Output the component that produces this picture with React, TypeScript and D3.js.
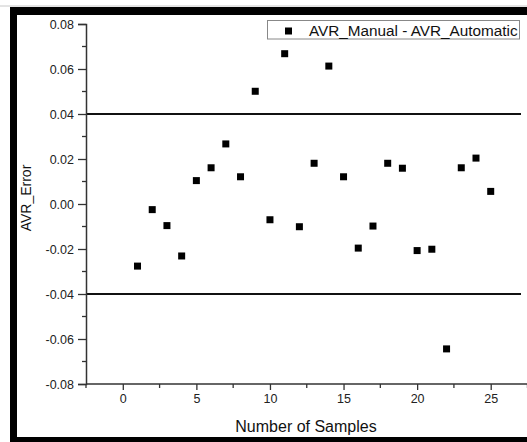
import React, { useEffect, useRef } from "react";
import * as d3 from "d3";

// sample number and measured error (AVR_Manual - AVR_Automatic)
const samples = [1, 2, 3, 4, 5, 6, 7, 8, 9, 10, 11, 12, 13, 14, 15, 16, 17, 18, 19, 20, 21, 22, 23, 24, 25];
const errors = [
  -0.0276, -0.0025, -0.0096, -0.0231, 0.0104, 0.0161, 0.0267, 0.0121, 0.0501, -0.007,
  0.0668, -0.0101, 0.0181, 0.0613, 0.0121, -0.0196, -0.0098, 0.0181, 0.0159, -0.0207,
  -0.0201, -0.0644, 0.0161, 0.0204, 0.0056,
];
const limits = [0.04, -0.04];
const xTicks = [0, 5, 10, 15, 20, 25];
const xMinorTicks = [-2.5, 2.5, 7.5, 12.5, 17.5, 22.5, 27.5];
const yTicks = [-0.08, -0.06, -0.04, -0.02, 0, 0.02, 0.04, 0.06, 0.08];
const yMinorTicks = [-0.07, -0.05, -0.03, -0.01, 0.01, 0.03, 0.05, 0.07];
const legendLabel = "AVR_Manual - AVR_Automatic";

const W = 527;
const H = 442;
const FONT = "'Liberation Sans', Arial, sans-serif";

export default function App() {
  const ref = useRef<SVGSVGElement>(null);

  useEffect(() => {
    const svg = d3.select(ref.current);
    svg.selectAll("*").remove();

    const x = d3.scaleLinear().domain([-2.5, 27.5]).range([86, 527.5]);
    const y = d3.scaleLinear().domain([-0.08, 0.08]).range([384, 24]);

    // frame of the picture
    svg.append("rect").attr("width", W).attr("height", H).attr("fill", "#fff");
    svg.append("line").attr("x1", 0).attr("x2", W).attr("y1", 6).attr("y2", 6)
      .attr("stroke", "#c8c8c8").attr("stroke-width", 1);
    svg.append("rect").attr("x", 10).attr("y", 7).attr("width", W - 10).attr("height", 8).attr("fill", "#000");
    svg.append("rect").attr("x", 10).attr("y", 7).attr("width", 7).attr("height", H - 7).attr("fill", "#000");
    svg.append("rect").attr("x", 10).attr("y", 437).attr("width", W - 10).attr("height", 5).attr("fill", "#000");

    // limit lines
    svg.append("g").selectAll("line").data(limits).enter().append("line")
      .attr("x1", x(-2.5)).attr("x2", 521)
      .attr("y1", (d) => y(d)).attr("y2", (d) => y(d))
      .attr("stroke", "#111").attr("stroke-width", 2);

    // y axis
    const yAxis = svg.append("g").attr("transform", "translate(86,0)")
      .call(d3.axisLeft(y).tickValues(yTicks).tickSize(8).tickPadding(4)
        .tickFormat((d) => (+d).toFixed(2)));
    yAxis.append("g").selectAll("line").data(yMinorTicks).enter().append("line")
      .attr("x1", -4).attr("x2", 0).attr("y1", (d) => y(d)).attr("y2", (d) => y(d))
      .attr("stroke", "#333").attr("stroke-width", 1.3);

    // x axis
    const xAxis = svg.append("g").attr("transform", "translate(0,384)")
      .call(d3.axisBottom(x).tickValues(xTicks).tickSize(6).tickPadding(4)
        .tickFormat((d) => String(d)));
    xAxis.append("g").selectAll("line").data(xMinorTicks).enter().append("line")
      .attr("x1", (d) => x(d)).attr("x2", (d) => x(d)).attr("y1", 0).attr("y2", 4)
      .attr("stroke", "#333").attr("stroke-width", 1.3);

    [yAxis, xAxis].forEach((a) => {
      a.select(".domain").attr("stroke", "#333").attr("stroke-width", 1.5);
      a.selectAll(".tick line").attr("stroke", "#333").attr("stroke-width", 1.3);
      a.selectAll(".tick text").attr("fill", "#222").style("font-family", FONT).style("font-size", "12.5px");
    });
    xAxis.select(".domain").attr("d", `M${x(-2.5)},0H${W}`);

    // points
    svg.append("g").selectAll("rect").data(samples).enter().append("rect")
      .attr("x", (d) => x(d) - 3.5)
      .attr("y", (d, i) => y(errors[i]) - 3.5)
      .attr("width", 7).attr("height", 7).attr("fill", "#000");

    // axis titles
    svg.append("text").attr("x", 306).attr("y", 432).attr("text-anchor", "middle")
      .attr("fill", "#111").style("font-family", FONT).style("font-size", "16px")
      .text("Number of Samples");
    svg.append("text").attr("transform", "translate(31,198) rotate(-90)").attr("text-anchor", "middle")
      .attr("fill", "#111").style("font-family", FONT).style("font-size", "14px")
      .text("AVR_Error");

    // legend
    const lg = svg.append("g");
    lg.append("rect").attr("x", 267.5).attr("y", 20.5).attr("width", 252).attr("height", 18.5)
      .attr("fill", "#fff").attr("stroke", "#888").attr("stroke-width", 1);
    lg.append("rect").attr("x", 285).attr("y", 27.5).attr("width", 7).attr("height", 7).attr("fill", "#000");
    lg.append("text").attr("x", 309).attr("y", 36).attr("fill", "#111")
      .style("font-family", FONT).style("font-size", "15.3px").text(legendLabel);
  }, []);

  return (
    <svg ref={ref} width={W} height={H}
      style={{ position: "absolute", left: 0, top: 0, display: "block" }} />
  );
}
